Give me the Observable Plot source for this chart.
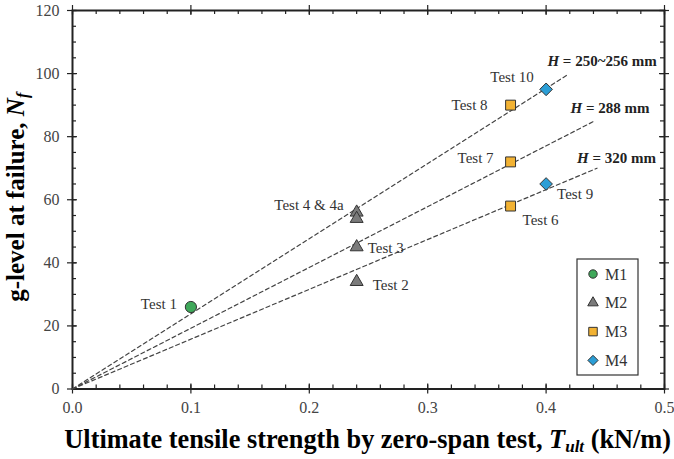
<!DOCTYPE html>
<html>
<head>
<meta charset="utf-8">
<script src="https://cdn.jsdelivr.net/npm/d3@7"></script>
<script src="https://cdn.jsdelivr.net/npm/@observablehq/plot@0.6"></script>
<style>
  body { margin: 0; background: #fff; }
  #chart { width: 674px; height: 459px; overflow: hidden; }
</style>
</head>
<body>
<div id="chart"></div>
<script>
// ---------- data ----------
const testNames   = ["Test 1", "Test 2", "Test 3", "Test 4", "Test 4a", "Test 6", "Test 7", "Test 8", "Test 9", "Test 10"];
const pointLabels = ["Test 1", "Test 2", "Test 3", "Test 4 & 4a", "", "Test 6", "Test 7", "Test 8", "Test 9", "Test 10"];
const materials   = ["M1", "M2", "M2", "M2", "M2", "M3", "M3", "M3", "M4", "M4"];
const tult        = [0.10, 0.24, 0.24, 0.24, 0.24, 0.37, 0.37, 0.37, 0.40, 0.40];
const gLevel      = [26, 34, 45, 56, 54, 58, 72, 90, 65, 95];

const fitLabels   = ["H = 250~256 mm", "H = 288 mm", "H = 320 mm"];
const fitStartX   = [0, 0, 0];
const fitStartY   = [0, 0, 0];
const fitEndX     = [0.418, 0.440, 0.443];
const fitEndY     = [99.6, 84.8, 70.0];

const legendLabels = ["M1", "M2", "M3", "M4"];
const xTicks = [0, 0.1, 0.2, 0.3, 0.4, 0.5];
const yTicks = [0, 20, 40, 60, 80, 100, 120];

// ---------- styles / layout ----------
const materialStyle = {
  M1: {symbol: "circle",   d3symbol: d3.symbolCircle,   fill: "#3fa85a", r: 5.6, lr: 4.2},
  M2: {symbol: "triangle", d3symbol: d3.symbolTriangle, fill: "#7b7b7b", r: 4.8, lr: 3.9},
  M3: {symbol: "square",   d3symbol: d3.symbolSquare,   fill: "#f2b233", r: 5.6, lr: 4.8},
  M4: {symbol: "diamond2", d3symbol: d3.symbolDiamond2, fill: "#2b9ed6", r: 5.7, lr: 4.6}
};
const labelLayout = {
  "Test 1":  {dx: -14, dy: -3,  anchor: "end"},
  "Test 2":  {dx: 16,  dy: 3,   anchor: "start"},
  "Test 3":  {dx: 11,  dy: 1,   anchor: "start"},
  "Test 4":  {dx: -13, dy: -7,  anchor: "end"},
  "Test 6":  {dx: 12,  dy: 14,  anchor: "start"},
  "Test 7":  {dx: -17, dy: -4,  anchor: "end"},
  "Test 8":  {dx: -23, dy: 0,   anchor: "end"},
  "Test 9":  {dx: 11,  dy: 10,  anchor: "start"},
  "Test 10": {dx: -34, dy: -12, anchor: "middle"}
};
const fitLabelLayout = [
  {dx: -20, dy: -14},
  {dx: -23, dy: -13},
  {dx: -20, dy: -10}
];

const W = 674, H = 459;
const mL = 72, mR = 10, mT = 10, mB = 70.5;
const frameW = W - mL - mR, frameH = H - mT - mB;
const axisColor = "#222";
const serif = "Liberation Serif, Times New Roman, serif";

// ---------- derived tables ----------
const points = testNames.map((name, i) => ({name, label: pointLabels[i], material: materials[i], x: tult[i], y: gLevel[i]}));
const fitLines = fitLabels.flatMap((label, i) => [
  {label, x: fitStartX[i], y: fitStartY[i]},
  {label, x: fitEndX[i],   y: fitEndY[i]}
]);
const fitEnds = fitLabels.map((label, i) => ({label, x: fitEndX[i], y: fitEndY[i]}));

const xMinor = d3.range(0, 0.5001, 0.02).map(v => +v.toFixed(2));
const yMinor = d3.range(0, 121, 5);

const tk = {stroke: axisColor, strokeWidth: 1.2};
const minor = 4, major = 5;

const marks = [
  // bottom ticks
  Plot.ruleX(xMinor, {...tk, x: d => d, insetTop: frameH - minor}),
  Plot.ruleX(xTicks, {...tk, x: d => d, insetTop: frameH - major, insetBottom: -major}),
  // top ticks
  Plot.ruleX(xMinor, {...tk, x: d => d, insetBottom: frameH - minor}),
  Plot.ruleX(xTicks, {...tk, x: d => d, insetBottom: frameH - major, insetTop: -major}),
  // left ticks
  Plot.ruleY(yMinor, {...tk, y: d => d, insetRight: frameW - minor}),
  Plot.ruleY(yTicks, {...tk, y: d => d, insetRight: frameW - major, insetLeft: -major}),
  // right ticks
  Plot.ruleY(yMinor, {...tk, y: d => d, insetLeft: frameW - minor}),
  Plot.ruleY(yTicks, {...tk, y: d => d, insetLeft: frameW - major, insetRight: -major}),
  // tick labels
  Plot.axisX(xTicks, {anchor: "bottom", tickSize: 0, tickPadding: 13, tickFormat: d => d.toFixed(1),
                      fill: "#444", label: null, fontSize: 16, fontFamily: serif}),
  Plot.axisY(yTicks, {anchor: "left", tickSize: 0, tickPadding: 13,
                      fill: "#444", label: null, fontSize: 16, fontFamily: serif}),
  Plot.frame({stroke: axisColor, strokeWidth: 2}),
  // dashed fits
  Plot.line(fitLines, {x: "x", y: "y", z: "label", stroke: "#444", strokeWidth: 1.2, strokeDasharray: "4,3"}),
  // fit labels
  ...fitEnds.map((d, i) => Plot.text([d], {x: "x", y: "y", text: "label", textAnchor: "start",
      dx: fitLabelLayout[i].dx, dy: fitLabelLayout[i].dy, fontSize: 15, fontWeight: "bold",
      fill: "#222", fontFamily: serif})),
  // points
  ...Object.keys(materialStyle).map(m => Plot.dot(points.filter(p => p.material === m), {
      x: "x", y: "y", symbol: () => materialStyle[m].symbol, r: materialStyle[m].r,
      fill: materialStyle[m].fill, stroke: "#333", strokeWidth: 1})),
  // point labels
  ...points.filter(p => p.label).map(p => Plot.text([p], {
      x: "x", y: "y", text: "label", dx: labelLayout[p.name].dx, dy: labelLayout[p.name].dy,
      textAnchor: labelLayout[p.name].anchor, fontSize: 15, fill: "#333", fontFamily: serif}))
];

const svg = Plot.plot({
  width: W, height: H,
  marginLeft: mL, marginRight: mR, marginTop: mT, marginBottom: mB,
  style: {fontFamily: serif, fontSize: "16px", background: "#fff", overflow: "visible"},
  x: {domain: [0, 0.5], axis: null},
  y: {domain: [0, 120], axis: null},
  symbol: {type: "identity"},
  marks
});
document.getElementById("chart").appendChild(svg);

const root = d3.select(svg);

// italic H in fit labels
root.selectAll("text").each(function() {
  const t = this.textContent;
  if (t.startsWith("H = ")) {
    const s = d3.select(this);
    s.text(null);
    s.append("tspan").attr("font-style", "italic").text("H");
    s.append("tspan").text(t.slice(1));
  }
});

// axis titles
const xt = root.append("text")
  .attr("x", W - 3).attr("y", H - 11)
  .attr("text-anchor", "end")
  .attr("font-family", serif).attr("font-size", 26.3).attr("font-weight", "bold").attr("fill", "#000");
xt.append("tspan").text("Ultimate tensile strength by zero-span test, ");
xt.append("tspan").attr("font-style", "italic").text("T");
xt.append("tspan").attr("font-style", "italic").attr("font-size", 17).attr("dy", 4).text("ult");
xt.append("tspan").attr("dy", -4).text(" (kN/m)");

const cy = mT + frameH / 2 - 2;
const yt = root.append("text")
  .attr("transform", `translate(24,${cy}) rotate(-90)`)
  .attr("text-anchor", "middle")
  .attr("font-family", serif).attr("font-size", 25).attr("font-weight", "bold").attr("fill", "#000");
yt.append("tspan").text("g-level at failure, ");
yt.append("tspan").attr("font-style", "italic").text("N");
yt.append("tspan").attr("font-style", "italic").attr("font-size", 16).attr("dy", 4).text("f");

// legend
const right = W - mR, bottom = H - mB;
const lg = root.append("g").attr("transform", `translate(${right - 87},${bottom - 129.5})`);
lg.append("rect").attr("width", 61).attr("height", 116).attr("fill", "#fff").attr("stroke", "#333").attr("stroke-width", 1.2);
legendLabels.forEach((m, i) => {
  const st = materialStyle[m];
  const yy = 15 + i * 28.8;
  lg.append("path")
    .attr("transform", `translate(16,${yy})`)
    .attr("d", d3.symbol(st.d3symbol, Math.PI * st.lr * st.lr)())
    .attr("fill", st.fill).attr("stroke", "#333").attr("stroke-width", 1);
  lg.append("text").attr("x", 28).attr("y", yy).attr("dy", "0.35em")
    .attr("text-anchor", "start")
    .attr("font-family", serif).attr("font-size", 16).attr("fill", "#333").text(m);
});
</script>
</body>
</html>
